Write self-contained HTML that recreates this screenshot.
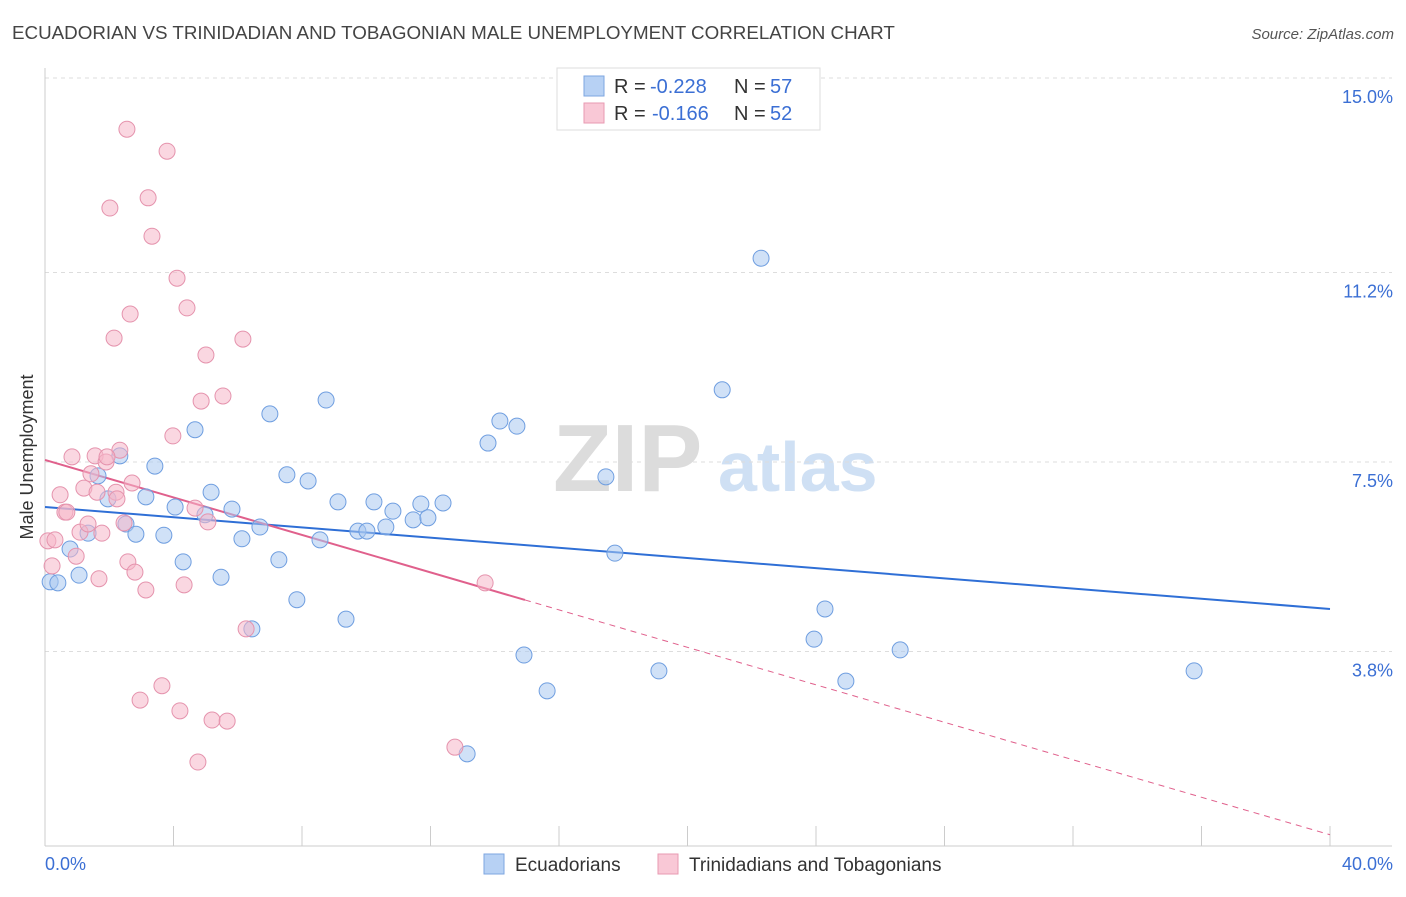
<!DOCTYPE html>
<html><head><meta charset="utf-8"><style>
body{margin:0;background:#fff;font-family:"Liberation Sans",sans-serif}
svg text{font-family:"Liberation Sans",sans-serif}
</style></head><body>
<svg id="chart" width="1406" height="892" xmlns="http://www.w3.org/2000/svg">
<text x="12" y="39" font-size="18.8" fill="#444">ECUADORIAN VS TRINIDADIAN AND TOBAGONIAN MALE UNEMPLOYMENT CORRELATION CHART</text>
<text x="1394" y="39" font-size="15" fill="#555" font-style="italic" text-anchor="end">Source: ZipAtlas.com</text>
<text x="553" y="491" font-size="96" fill="#dcdcdc" font-family="Liberation Serif" font-weight="bold">ZIP</text>
<text x="718" y="491" font-size="70" fill="#cfe0f4" font-weight="bold">atlas</text>
<g id="grid"></g><g id="axes"></g><g id="trends"></g><g id="points"></g>
<text transform="translate(33,457) rotate(-90)" font-size="18" fill="#333" text-anchor="middle">Male Unemployment</text>
<g>
<rect x="557" y="68" width="263" height="62" fill="#fff" stroke="#ddd"/>
<rect x="584" y="76" width="20" height="20" fill="#b7d1f4" stroke="#7ea6e0"/>
<rect x="584" y="103" width="20" height="20" fill="#f9c8d6" stroke="#e89ab2"/>
<text x="614" y="93" font-size="20" fill="#333">R =</text>
<text x="650" y="93" font-size="20" fill="#3b6fd4">-0.228</text>
<text x="734" y="93" font-size="20" fill="#333">N =</text>
<text x="770" y="93" font-size="20" fill="#3b6fd4">57</text>
<text x="614" y="120" font-size="20" fill="#333">R =</text>
<text x="652" y="120" font-size="20" fill="#3b6fd4">-0.166</text>
<text x="734" y="120" font-size="20" fill="#333">N =</text>
<text x="770" y="120" font-size="20" fill="#3b6fd4">52</text>
</g>
<g>
<rect x="484" y="854" width="20" height="20" fill="#b7d1f4" stroke="#7ea6e0"/>
<text x="515" y="871" font-size="19" fill="#333">Ecuadorians</text>
<rect x="658" y="854" width="20" height="20" fill="#f9c8d6" stroke="#e89ab2"/>
<text x="689" y="871" font-size="19" fill="#333">Trinidadians and Tobagonians</text>
</g>
</svg>
<script>
const blueX=[0.16,0.40,0.78,1.06,1.34,1.65,1.96,2.33,2.52,2.83,3.14,3.42,3.70,4.05,4.30,4.67,4.98,5.17,5.48,5.82,6.13,6.44,6.69,7.00,7.28,7.53,7.84,8.19,8.56,8.75,9.12,9.37,9.74,10.02,10.24,10.61,10.83,11.46,11.70,11.92,12.39,13.79,14.16,14.69,14.91,15.63,17.46,17.74,19.11,21.08,22.29,23.94,24.28,24.93,26.62,35.77,13.14];
const blueY=[5.16,5.14,5.80,5.29,6.11,7.23,6.78,7.62,6.29,6.09,6.82,7.42,6.07,6.62,5.55,8.13,6.47,6.91,5.25,6.58,6.00,4.24,6.23,8.44,5.59,7.25,4.81,7.13,5.98,8.71,6.72,4.43,6.15,6.15,6.72,6.23,6.54,6.37,6.68,6.41,6.70,7.87,8.30,8.20,3.73,3.03,7.21,5.72,3.42,8.91,11.48,4.04,4.63,3.22,3.83,3.42,1.80];
const pinkX=[0.22,0.09,0.31,0.47,0.62,0.84,0.97,1.09,1.21,1.34,1.43,1.56,1.62,1.68,1.77,1.90,2.02,2.15,2.21,2.33,2.46,2.55,2.58,2.65,2.71,2.80,2.96,3.14,3.21,3.33,3.64,3.80,3.98,4.11,4.20,4.33,4.42,4.67,4.76,4.86,5.01,5.07,5.20,5.54,5.67,6.16,6.26,12.76,13.70,1.93,0.68,2.24];
const pinkY=[5.47,5.96,5.98,6.86,6.52,7.60,5.66,6.13,6.99,6.29,7.27,7.62,6.91,5.22,6.11,7.50,12.46,9.92,6.91,7.73,6.31,14.00,5.55,10.39,7.09,5.35,2.85,5.00,12.66,11.91,3.13,13.57,8.01,11.09,2.64,5.10,10.51,6.60,1.64,8.69,9.59,6.33,2.46,8.79,2.44,9.90,4.24,1.93,5.14,7.60,6.52,6.78];
const blueTrend=[6.62,4.63];
const pinkTrend=[7.54,0.22];
const pinkSolidEnd=14.94;
const yTicks=[15.0,11.2,7.5,3.8];
const yTickLabels=["15.0%","11.2%","7.5%","3.8%"];
const xTicks=[0,4,8,12,16,20,24,28,32,36,40];
const NS="http://www.w3.org/2000/svg";
const sx=v=>45+v/40*1285, sy=v=>78+(15-v)*51.2;
function mk(t,a,p){const e=document.createElementNS(NS,t);for(const k in a)e.setAttribute(k,a[k]);document.getElementById(p).appendChild(e);return e;}
yTicks.forEach((v,i)=>{
 const g=mk('line',{x1:45,x2:1392,y1:sy(v),y2:sy(v),stroke:'#ddd','stroke-dasharray':'4,4'},'grid');
 
 
 const t=mk('text',{x:1393,y:sy(v)+25,'font-size':18,fill:'#3b6fd4','text-anchor':'end'},'axes');
 t.textContent=yTickLabels[i];
 
 
});
const ax=mk('line',{x1:45,x2:45,y1:68,y2:846,stroke:'#ccc'},'axes');


const bx=mk('line',{x1:45,x2:1392,y1:846,y2:846,stroke:'#ccc'},'axes');


xTicks.forEach(v=>{
 const l=mk('line',{x1:sx(v),x2:sx(v),y1:826,y2:846,stroke:'#ccc'},'axes');
 
 
});
[[0,"0.0%","start",45],[40,"40.0%","end",1393]].forEach(d=>{
 const t=mk('text',{x:d[3],y:870,'font-size':18,fill:'#3b6fd4','text-anchor':d[2]},'axes');
 t.textContent=d[1];
 
 
});
function drawPts(X,Y,fill,stroke,name){
 X.forEach((x,i)=>{
  const c=mk('circle',{cx:sx(x),cy:sy(Y[i]),r:8,fill:fill,'fill-opacity':0.55,stroke:stroke,'stroke-width':1},'points');
  
  
 });
}
drawPts(blueX,blueY,'#a9c8f0','#6f9ee0','ecuadorian-point');
drawPts(pinkX,pinkY,'#f5b6c8','#e593ad','trinidadian-point');
const lerp=(t,x)=>t[0]+(t[1]-t[0])*x/40;
const bl=mk('line',{x1:sx(0),y1:sy(blueTrend[0]),x2:sx(40),y2:sy(blueTrend[1]),stroke:'#2f6fd6','stroke-width':2},'trends');


const pl=mk('line',{x1:sx(0),y1:sy(pinkTrend[0]),x2:sx(pinkSolidEnd),y2:sy(lerp(pinkTrend,pinkSolidEnd)),stroke:'#e0608c','stroke-width':2},'trends');


const pd=mk('line',{x1:sx(pinkSolidEnd),y1:sy(lerp(pinkTrend,pinkSolidEnd)),x2:sx(40),y2:sy(pinkTrend[1]),stroke:'#e0608c','stroke-width':1,'stroke-dasharray':'6,5'},'trends');


</script>
</body></html>
